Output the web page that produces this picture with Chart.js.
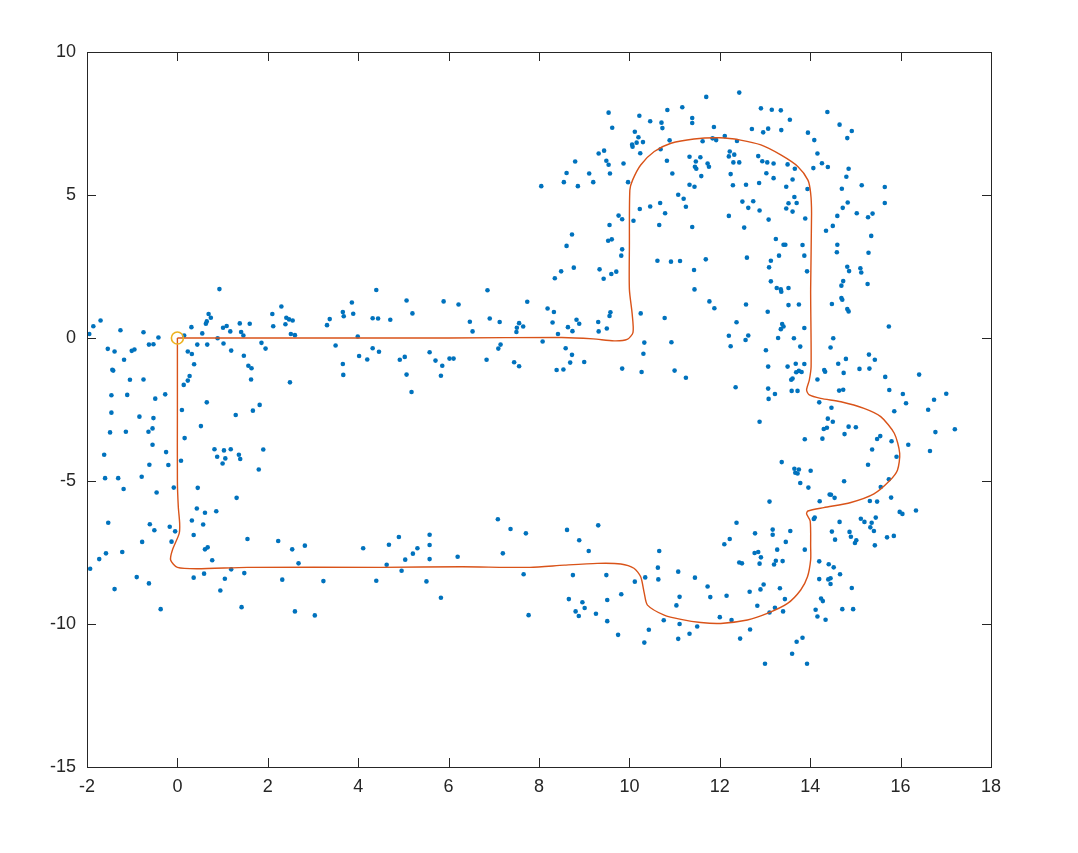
<!DOCTYPE html>
<html>
<head>
<meta charset="utf-8">
<title>Scatter and path</title>
<script src="https://cdn.jsdelivr.net/npm/chart.js@4.4.1/dist/chart.umd.min.js"></script>
<style>
  html, body { margin: 0; padding: 0; background: #ffffff; }
  #plot { display: block; }
</style>
</head>
<body>
<canvas id="plot" width="1078" height="853"></canvas>
<script>
// noisy measurements (x, y)
const measurements = [
  [0.93,1.71],[4.40,1.68],[-1.95,0.14],[-1.86,0.41],[-1.70,0.61],[-1.26,0.27],[-0.75,0.20],[-0.42,0.02],[-0.63,-0.23],[-0.53,-0.22],
  [-1.54,-0.38],[-1.39,-0.47],[-1.18,-0.76],[-1.01,-0.45],[-0.95,-0.40],[-1.44,-1.11],[-1.42,-1.14],[-1.05,-1.46],[-0.75,-1.45],[-1.46,-2.00],
  [-1.11,-1.99],[-0.49,-2.12],[-0.27,-1.97],[-1.46,-2.61],[-0.84,-2.75],[-0.53,-2.80],[-0.55,-3.16],[-0.64,-3.28],[-1.49,-3.30],[-1.14,-3.28],
  [-0.55,-3.73],[-0.25,-3.99],[-1.62,-4.08],[-0.62,-4.43],[-0.20,-4.44],[-1.60,-4.90],[-1.31,-4.90],[-0.79,-4.85],
  [0.15,0.09],[0.31,0.38],[0.55,0.16],[0.63,0.50],[0.65,0.58],[0.69,0.84],[0.74,0.71],[0.44,-0.23],[0.66,-0.23],[0.23,-0.47],
  [0.32,-0.56],[0.37,-0.92],[0.27,-1.33],[0.23,-1.49],[0.14,-1.64],[0.10,-2.52],[0.65,-2.25],[0.52,-3.08],[0.16,-3.50],[0.08,-4.29],
  [0.89,-0.01],[1.01,0.36],[1.09,0.42],[1.17,0.23],[1.02,-0.19],[1.19,-0.44],[1.38,0.51],[1.41,0.21],[1.46,0.09],[1.60,0.50],
  [1.47,-0.62],[1.57,-0.97],[1.64,-1.06],[1.63,-1.45],[1.29,-2.69],[1.67,-2.54],[1.82,-2.34],[0.82,-3.89],[0.88,-4.15],[1.03,-3.93],
  [1.06,-4.21],[1.00,-4.39],[1.18,-3.89],[1.36,-4.08],[1.39,-4.23],[1.90,-3.90],[1.80,-4.60],[2.10,0.84],[2.30,1.10],[2.12,0.41],
  [2.39,0.48],[2.41,0.71],[2.47,0.65],[2.55,0.61],[2.51,0.14],[2.60,0.10],[1.86,-0.17],[1.95,-0.37],[2.49,-1.55],[3.31,0.45],
  [3.37,0.66],[3.50,-0.26],[3.66,0.91],[3.68,0.76],[3.86,1.24],[3.89,0.85],[3.99,0.05],[4.02,-0.63],[4.20,-0.75],[4.32,-0.36],
  [4.46,-0.48],[4.32,0.69],[4.44,0.68],[3.66,-0.91],[3.67,-1.29],
  [6.86,1.67],[5.07,1.31],[5.20,0.86],[4.71,0.64],[5.89,1.28],[6.22,1.17],[6.47,0.57],[6.53,0.23],[6.91,0.68],[7.13,0.56],
  [7.74,1.27],[7.56,0.52],[7.51,0.36],[7.65,0.40],[7.50,0.21],[8.19,1.03],[8.33,0.91],[8.30,0.54],[8.42,0.14],[8.83,0.64],
  [8.89,0.50],[8.64,0.38],[8.74,0.24],[9.31,0.56],[9.32,0.23],[9.50,0.33],[9.56,0.77],[9.58,0.90],[10.25,0.86],[10.78,0.70],
  [4.92,-0.76],[5.03,-0.66],[5.07,-1.28],[5.18,-1.89],[5.58,-0.50],[5.71,-0.79],[5.86,-0.97],[5.83,-1.32],[6.02,-0.72],[6.11,-0.72],
  [6.84,-0.76],[7.10,-0.37],[7.15,-0.23],[7.45,-0.85],[7.56,-0.99],[8.08,-0.12],[8.59,-0.36],[8.73,-0.59],[8.69,-0.86],[8.39,-1.12],
  [8.54,-1.10],[9.00,-0.84],[9.84,-1.07],[10.27,-1.19],[10.31,-0.55],[10.33,-0.16],[10.93,-0.15],[11.00,-1.14],
  [11.44,1.70],[11.77,1.28],[11.88,1.04],[12.58,1.17],[12.37,0.55],[12.20,0.08],[12.24,-0.29],[12.57,-0.07],[12.63,0.09],[13.06,0.92],
  [13.13,1.98],[13.26,1.75],[13.35,1.70],[13.36,1.62],[13.52,1.75],[13.52,1.15],[13.75,1.17],[13.38,0.49],[13.41,0.40],[13.35,0.31],
  [13.87,0.35],[13.29,0.00],[13.64,-0.01],[13.78,-0.30],[13.02,-0.43],[13.07,-1.00],[13.50,-1.00],[13.68,-0.90],[13.87,-0.91],[13.69,-1.20],
  [13.75,-1.15],[13.81,-1.19],[13.61,-1.42],[13.58,-1.46],[12.35,-1.72],[13.07,-1.77],[13.08,-2.13],[13.22,-1.96],[13.59,-1.85],[13.72,-1.85],
  [11.25,-1.39],[12.88,-2.93],[13.88,-3.54],[13.37,-4.34],[13.65,-4.57],[13.75,-4.60],[13.67,-4.71],[13.72,-4.74],[14.01,-4.64],
  [14.73,1.99],[14.69,1.83],[15.27,1.89],[14.48,1.19],[14.69,1.40],[14.71,1.34],[14.82,1.01],[14.85,0.93],[15.74,0.40],[14.51,-0.01],
  [14.45,-0.33],[14.62,-0.90],[14.79,-0.73],[14.74,-1.22],[15.09,-1.08],[15.30,-0.58],[15.43,-0.76],[15.31,-1.07],[15.66,-1.36],[16.41,-1.28],
  [15.75,-1.82],[16.05,-1.96],[16.12,-2.28],[16.74,-2.16],[17.01,-1.95],[16.61,-2.51],[15.86,-2.56],[14.16,-1.45],[14.31,-1.12],[14.33,-1.18],
  [14.20,-2.25],[14.47,-2.44],[14.39,-2.82],[14.50,-2.93],[14.64,-1.84],[14.73,-1.81],[14.30,-3.18],[14.37,-3.14],[14.85,-3.10],[15.01,-3.12],
  [14.76,-3.36],[14.27,-3.52],[15.55,-3.43],[15.48,-3.53],[15.80,-3.61],[15.37,-3.90],[16.17,-3.73],[16.77,-3.29],[17.20,-3.19],[16.65,-3.95],
  [15.91,-4.15],[15.28,-4.43],[15.74,-4.94],
  [-1.19,-5.28],[-0.46,-5.40],[-0.08,-5.23],[0.45,-5.24],[1.31,-5.59],[0.43,-5.96],[0.61,-6.11],[0.86,-6.06],[0.32,-6.38],[0.57,-6.52],
  [-1.53,-6.46],[-0.61,-6.51],[-0.51,-6.72],[-0.17,-6.60],[-0.05,-6.76],[0.36,-6.89],[-0.78,-7.13],[-0.13,-7.12],[-1.22,-7.48],[-1.58,-7.53],
  [-1.73,-7.73],[-1.93,-8.07],[0.61,-7.39],[0.67,-7.32],[0.77,-7.77],[1.55,-7.03],[2.23,-7.10],[2.54,-7.39],[2.82,-7.26],[4.11,-7.35],
  [2.68,-7.88],[1.19,-8.09],[1.48,-8.22],[1.05,-8.42],[0.59,-8.24],[0.36,-8.38],[-0.90,-8.36],[-0.63,-8.58],[-1.39,-8.78],[-0.37,-9.48],
  [0.95,-8.83],[1.42,-9.41],[2.32,-8.45],[3.23,-8.50],[4.40,-8.49],[2.60,-9.56],[3.04,-9.70],
  [7.09,-6.34],[7.37,-6.68],[7.71,-6.83],[7.20,-7.53],[4.68,-7.23],[4.90,-6.96],[5.58,-6.88],[5.58,-7.24],[5.31,-7.35],[5.21,-7.54],
  [5.04,-7.75],[5.58,-7.73],[4.63,-7.93],[4.96,-8.14],[5.51,-8.51],[5.83,-9.08],[6.20,-7.65],[7.66,-8.26],[7.77,-9.69],[8.62,-6.71],
  [8.89,-7.07],[9.31,-6.55],[9.10,-7.45],[8.75,-8.29],[8.66,-9.13],[8.81,-9.56],[8.96,-9.24],[9.01,-9.44],[8.88,-9.72],[9.26,-9.64],
  [9.51,-9.16],[9.51,-9.90],[9.49,-8.29],[9.75,-10.38],[9.82,-8.96],[10.12,-8.52],[10.35,-8.37],[10.66,-7.45],[10.63,-8.03],[10.64,-8.44],
  [10.43,-10.20],[10.33,-10.65],[10.76,-9.87],[11.08,-8.17],[11.11,-9.05],[11.04,-9.35],[11.11,-10.00],[11.08,-10.52],
  [13.78,-5.07],[13.96,-5.23],[14.75,-5.01],[15.56,-5.21],[14.43,-5.47],[14.46,-5.48],[14.54,-5.59],[14.21,-5.71],[15.32,-5.70],[15.48,-5.72],
  [15.79,-5.58],[15.98,-6.08],[16.04,-6.15],[16.34,-6.03],[13.10,-5.72],[12.37,-6.46],[12.78,-6.83],[13.17,-6.70],[13.17,-6.88],[13.56,-6.75],
  [12.22,-7.03],[12.10,-7.21],[13.46,-7.13],[13.27,-7.40],[13.88,-7.40],[12.77,-7.52],[12.85,-7.48],[12.91,-7.67],[12.43,-7.85],[12.49,-7.88],
  [12.88,-7.89],[13.20,-7.92],[13.24,-7.79],[13.39,-7.80],[14.08,-6.33],[14.10,-6.28],[14.65,-6.43],[15.12,-6.32],[15.20,-6.43],[15.36,-6.46],
  [15.45,-6.28],[15.33,-6.62],[15.41,-6.75],[14.48,-6.77],[14.55,-7.05],[14.87,-6.78],[14.90,-6.95],[15.02,-7.07],[14.99,-7.17],[15.43,-7.25],
  [15.70,-6.97],[15.85,-6.92],[14.20,-7.81],[14.41,-7.91],[14.52,-8.02],[14.66,-8.26],[14.20,-8.43],[14.40,-8.44],[14.45,-8.40],[14.45,-8.60],
  [14.92,-8.74],[12.97,-8.62],[13.33,-8.75],[12.90,-8.79],[12.66,-8.87],[12.15,-9.01],[11.79,-9.06],[11.73,-8.69],[11.45,-8.38],[13.44,-9.13],
  [12.83,-9.36],[13.22,-9.43],[13.10,-9.60],[13.40,-9.56],[14.24,-9.11],[14.28,-9.20],[14.12,-9.50],[14.71,-9.48],[14.95,-9.48],[14.16,-9.74],
  [14.34,-9.85],[12.00,-9.76],[12.26,-9.86],[11.50,-10.09],[11.33,-10.34],[12.67,-10.19],[12.45,-10.51],[13.83,-10.48],[13.70,-10.62],[13.60,-11.04],
  [13.00,-11.39],[13.93,-11.39],
  [11.70,8.43],[12.43,8.58],[9.54,7.88],[10.22,7.77],[10.84,7.97],[11.17,8.07],[11.39,7.69],[11.39,7.52],[11.87,7.38],[10.46,7.58],
  [10.71,7.53],[10.73,7.34],[9.62,7.35],[10.12,7.21],[10.20,7.02],[10.06,6.76],[10.07,6.69],[10.16,6.83],[10.30,6.85],[10.89,6.91],
  [10.24,6.46],[10.69,6.60],[11.62,6.88],[11.84,6.98],[11.92,6.92],[12.11,7.06],[12.38,6.89],[9.44,6.55],[9.32,6.45],[8.80,6.17],
  [8.61,5.77],[8.55,5.45],[8.86,5.31],[8.05,5.31],[9.11,5.75],[9.20,5.45],[9.49,6.20],[9.54,6.06],[9.57,5.75],[9.87,6.10],
  [9.97,5.45],[10.83,6.20],[10.95,5.75],[11.33,6.34],[11.47,6.17],[11.57,6.32],[11.45,5.99],[11.48,5.92],[11.73,6.10],[11.76,5.99],
  [11.59,5.66],[11.33,5.36],[11.44,5.29],[12.22,6.52],[12.32,6.41],[12.20,6.35],[12.30,6.14],[12.43,6.14],[12.24,5.73],[12.29,5.34],
  [11.08,5.01],[11.20,4.87],[11.25,4.59],[10.68,4.72],[10.46,4.60],[10.23,4.51],[10.79,4.36],[10.66,3.95],[11.39,3.88],[12.20,4.27],
  [10.09,4.10],[9.76,4.28],[9.84,4.15],[9.56,3.95],[8.73,3.62],[8.61,3.22],[9.53,3.40],[9.61,3.45],[9.84,3.10],[9.82,2.88],
  [10.62,2.70],[10.92,2.67],[11.12,2.69],[11.69,2.75],[11.43,2.38],[8.49,2.33],[8.35,2.09],[8.77,2.46],[9.34,2.40],[9.43,2.07],
  [9.60,2.24],[9.71,2.32],
  [12.91,8.03],[13.15,7.98],[13.35,7.96],[13.55,7.63],[14.38,7.90],[14.65,7.46],[14.92,7.24],[14.82,6.99],[12.71,7.31],[12.96,7.19],
  [13.07,7.32],[13.36,7.27],[13.95,7.18],[14.09,6.92],[14.16,6.45],[14.26,6.11],[14.39,5.98],[14.07,5.94],[12.85,6.36],[12.94,6.18],
  [13.05,6.14],[13.19,6.10],[13.50,6.07],[13.66,5.92],[13.03,5.76],[13.19,5.59],[13.61,5.54],[13.47,5.29],[12.87,5.42],[12.58,5.36],
  [13.94,5.21],[13.65,4.93],[13.52,4.71],[13.70,4.72],[13.47,4.53],[13.61,4.42],[12.74,4.78],[12.50,4.77],[12.63,4.55],[12.88,4.46],
  [13.08,4.14],[12.54,3.86],[13.89,4.18],[14.70,5.22],[14.80,5.64],[14.85,5.92],[15.14,5.34],[15.65,5.28],[15.65,4.72],[14.83,4.74],
  [14.72,4.55],[15.03,4.36],[14.60,4.27],[15.28,4.22],[15.38,4.35],[14.50,3.92],[14.35,3.75],[15.35,3.57],[15.29,2.98],[14.60,3.26],
  [14.59,3.00],[13.24,3.46],[13.41,3.26],[13.45,3.26],[13.83,3.25],[13.31,2.88],[13.87,2.88],[12.60,2.81],[13.13,2.70],[13.09,2.47],
  [13.93,2.33],[14.82,2.49],[14.86,2.34],[15.11,2.44],[15.13,2.29]
];

// smoothed estimated track (x, y)
const track = [
  [0,0],[3,0],[6,0],[8.5,0.02],[9.2,-0.03],[9.66,-0.1],[9.95,-0.05],[10.08,0.2],[10.06,0.86],[10.0,1.7],
  [10.0,3.2],[10.01,5.17],[10.07,5.52],[10.25,6.05],[10.55,6.52],[10.92,6.81],[11.43,6.96],[12.0,7.0],[12.46,6.92],[12.91,6.75],
  [13.35,6.4],[13.73,5.99],[13.95,5.52],[14.01,5.06],[14.03,4.36],[14.01,1.7],[14.02,-1.0],[13.98,-1.47],[13.92,-1.82],[13.98,-1.99],
  [14.23,-2.11],[14.68,-2.23],[15.19,-2.46],[15.56,-2.75],[15.86,-3.33],[15.98,-4.03],[15.93,-4.62],[15.75,-5.0],[15.41,-5.45],[14.9,-5.75],
  [14.3,-5.93],[13.95,-6.05],[13.92,-6.15],[14.0,-6.4],[14.01,-7.3],[14.01,-7.76],[13.94,-8.35],[13.79,-8.81],[13.5,-9.28],[13.05,-9.63],
  [12.61,-9.86],[12.02,-9.98],[11.58,-9.95],[11.14,-9.84],[10.77,-9.69],[10.4,-9.34],[10.33,-8.93],[10.25,-8.35],[10.1,-8.05],[9.81,-7.9],
  [9.29,-7.88],[8.56,-7.94],[7.8,-8.02],[6.3,-8.0],[4.5,-8.02],[1.55,-8.02],[0.44,-8.07],[0.0,-8.02],[-0.15,-7.76],[-0.11,-7.41],
  [0.04,-6.83],[0.05,-6.48],[0.02,-5.9],[0.0,-5.0],[0.0,-2.5],[0.0,0]
];

const startPoint = [[0, 0]];

const xTicks = [-2, 0, 2, 4, 6, 8, 10, 12, 14, 16, 18];
const yTicks = [-15, -10, -5, 0, 5, 10];

const toXY = pts => pts.map(p => ({ x: p[0], y: p[1] }));

// MATLAB style box with inward ticks on all four sides
const axesBox = {
  id: 'axesBox',
  afterDraw(chart) {
    const { ctx, chartArea: a, scales: { x, y } } = chart;
    ctx.save();
    ctx.strokeStyle = '#262626';
    ctx.lineWidth = 1;
    ctx.strokeRect(Math.round(a.left) + 0.5, Math.round(a.top) + 0.5,
      Math.round(a.width), Math.round(a.height));
    ctx.beginPath();
    const len = 9;
    x.ticks.forEach(t => {
      const px = Math.round(x.getPixelForValue(t.value)) + 0.5;
      ctx.moveTo(px, a.bottom); ctx.lineTo(px, a.bottom - len);
      ctx.moveTo(px, a.top); ctx.lineTo(px, a.top + len);
    });
    y.ticks.forEach(t => {
      const py = Math.round(y.getPixelForValue(t.value)) + 0.5;
      ctx.moveTo(a.left, py); ctx.lineTo(a.left + len, py);
      ctx.moveTo(a.right, py); ctx.lineTo(a.right - len, py);
    });
    ctx.stroke();
    ctx.restore();
  }
};

const tickFont = { family: 'Liberation Sans, Arial, Helvetica, sans-serif', size: 18 };

new Chart(document.getElementById('plot'), {
  type: 'scatter',
  data: {
    datasets: [
      {
        label: 'start',
        data: toXY(startPoint),
        pointRadius: 6,
        pointBorderWidth: 1.6,
        pointBorderColor: '#EDB120',
        pointBackgroundColor: 'rgba(0,0,0,0)',
        showLine: false,
        order: 0
      },
      {
        label: 'track',
        data: toXY(track),
        showLine: true,
        borderColor: '#D95319',
        borderWidth: 1.4,
        pointRadius: 0,
        tension: 0.25,
        fill: false,
        order: 1
      },
      {
        label: 'measurements',
        data: toXY(measurements),
        pointRadius: 2.3,
        pointBorderWidth: 0,
        pointBackgroundColor: '#0072BD',
        showLine: false,
        order: 2
      }
    ]
  },
  options: {
    responsive: false,
    animation: false,
    layout: { padding: { top: 52, right: 87, left: 0, bottom: 0 } },
    plugins: {
      legend: { display: false },
      tooltip: { enabled: false }
    },
    scales: {
      x: {
        type: 'linear',
        min: -2,
        max: 18,
        afterBuildTicks: s => { s.ticks = xTicks.map(v => ({ value: v })); },
        afterFit: s => { s.height = 86; },
        grid: { display: false, drawTicks: false },
        border: { display: false },
        ticks: { color: '#262626', font: tickFont, padding: 9, maxRotation: 0 }
      },
      y: {
        type: 'linear',
        min: -15,
        max: 10,
        afterBuildTicks: s => { s.ticks = yTicks.map(v => ({ value: v })); },
        afterFit: s => { s.width = 87; },
        grid: { display: false, drawTicks: false },
        border: { display: false },
        ticks: { color: '#262626', font: tickFont, padding: 11 }
      }
    }
  },
  plugins: [axesBox]
});
</script>
</body>
</html>
